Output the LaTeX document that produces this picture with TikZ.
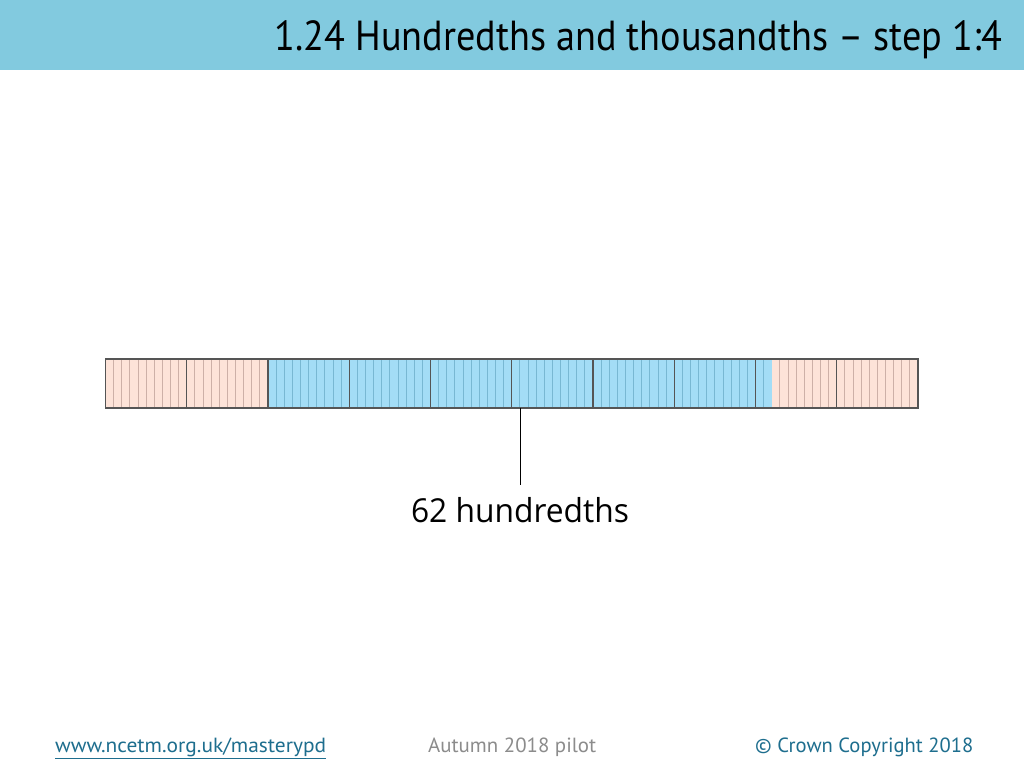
\documentclass[tikz,border=0pt]{standalone}
\usepackage{fontspec}
\setmainfont{PT Sans}
\newfontfamily\labfont{Open Sans}
\usepackage{graphicx}
\definecolor{headbg}{HTML}{82CADF}
\definecolor{pinkfill}{HTML}{FDE3D8}
\definecolor{bluefill}{HTML}{A3DDF6}
\definecolor{pinkline}{HTML}{CDB0A7}
\definecolor{blueline}{HTML}{78B8D3}
\definecolor{tenthline}{HTML}{555555}
\definecolor{linkcol}{HTML}{1E6E8E}
\definecolor{greytext}{HTML}{8C8C8C}
\tikzset{
  hline/.style={line width=0.8pt},
  tline/.style={draw=tenthline, line width=1.1pt},
  foot/.style={inner sep=0pt, anchor=base west},
}
\begin{document}
\begin{tikzpicture}[x=1pt,y=-1pt]
\useasboundingbox (0,0) rectangle (1024,768);
\fill[white] (0,0) rectangle (1024,768);
\fill[headbg] (0,0) rectangle (1024,70);
\node[inner sep=0pt, anchor=base east] (title) at (1003,50)
  {\resizebox{728pt}{\height}{\fontsize{42}{42}\selectfont 1.24 Hundredths and thousandths -- step 1:4}};
% bar
\fill[pinkfill] (105.5,359) rectangle (918,408);
\fill[bluefill] ({105.5+20*8.125},359) rectangle ({105.5+82*8.125},408);
\foreach \i in {1,...,19,83,84,...,99}
  \draw[hline, pinkline] ({105.5+\i*8.125},359) -- ({105.5+\i*8.125},408);
\foreach \i in {21,...,81}
  \draw[hline, blueline] ({105.5+\i*8.125},359) -- ({105.5+\i*8.125},408);
\foreach \i in {1,...,9}
  \draw[tline] ({105.5+\i*81.25},359) -- ({105.5+\i*81.25},408);
\draw[tline] (105.5,359) rectangle (918,408);
\coordinate (m) at (520,408);
\node[inner xsep=0pt, inner ysep=11.5pt, anchor=base] (lab) at (520,522)
  {\resizebox{218pt}{\height}{\labfont\fontsize{33}{33}\selectfont 62 hundredths}};
\draw[line width=1pt, black] (m) -- (lab.north);
% footer
\node[foot, text=linkcol] (url) at (55,752)
  {\resizebox{271pt}{\height}{\fontsize{20.5}{20.5}\selectfont\underline{www.ncetm.org.uk/masterypd}}};
\node[foot, text=greytext] (pilot) at (428,752)
  {\resizebox{168pt}{\height}{\fontsize{20.5}{20.5}\selectfont Autumn 2018 pilot}};
\node[foot, text=linkcol] (copy) at (755,752)
  {\resizebox{218pt}{\height}{\fontsize{20.5}{20.5}\selectfont \textcopyright\ Crown Copyright 2018}};
\end{tikzpicture}
\end{document}
